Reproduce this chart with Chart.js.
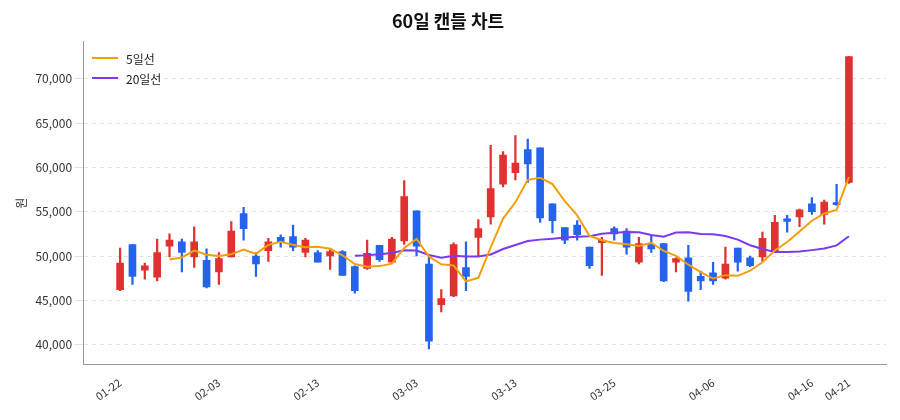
<!DOCTYPE html>
<html>
<head>
<meta charset="utf-8">
<script src="https://cdn.jsdelivr.net/npm/chart.js@4"></script>
<style>
  body { margin: 0; background: #fff; font-family: "Noto Sans CJK KR", sans-serif; }
  #wrap { position: relative; width: 900px; height: 420px; }
  #legend { position: absolute; left: 92px; top: 48px; font-size: 12px; color: #222; }
  #legend div { display: flex; align-items: center; height: 20px; }
  #legend span { display: inline-block; width: 26px; height: 2px; margin-right: 8px; }
</style>
</head>
<body>
<div id="wrap">
  <canvas id="c" width="900" height="420"></canvas>
  <div id="legend">
    <div><span style="background:#f59e0b"></span>5일선</div>
    <div><span style="background:#7c3aed"></span>20일선</div>
  </div>
</div>
<script>
// ========== DATA ==========
const dates = [
  '01-22','01-23','01-24','01-27','01-28','01-29','01-30','01-31',
  '02-03','02-04','02-05','02-06','02-07','02-10','02-11','02-12',
  '02-13','02-14','02-17','02-19','02-21','02-24','02-26','02-28',
  '03-03','03-04','03-05','03-06','03-07','03-10','03-11','03-12',
  '03-13','03-14','03-17','03-18','03-19','03-20','03-21','03-24',
  '03-25','03-26','03-27','03-28','03-31','04-01','04-02','04-03',
  '04-06','04-07','04-08','04-09','04-10','04-11','04-14','04-15',
  '04-16','04-17','04-18','04-21'
];
const opens  = [46200,51300,48400,47600,51100,51600,49900,49500,48200,49900,54800,50000,50600,52100,52200,50400,
                50400,50000,50500,48800,48600,51200,49300,51700,55100,49100,44500,45500,48700,52100,54400,58100,
                59400,62000,62200,55900,53200,53500,51000,51500,53100,52800,49300,51300,51400,49300,49800,47700,
                48100,47500,50900,49800,49900,50500,54200,54400,55900,54700,55900,58300];
const closes = [49200,47700,48900,50400,51800,50400,51600,46500,49700,52800,53100,49100,51600,51500,51000,51800,
                49300,50500,47800,46100,50300,49600,51900,56700,51100,40400,45200,51300,47700,53100,57600,61400,
                60500,60400,54300,54000,51800,52400,48900,51800,52500,51000,51400,50800,47200,49700,46000,47200,
                47200,49100,49300,48900,52000,53800,53900,55200,55000,56100,55800,72500];
const highs  = [50900,51300,49200,51900,52500,51900,53300,50800,50400,53900,55500,50400,52000,52400,53500,52000,
                50600,50800,50600,48900,51800,51200,52100,58500,55100,49900,46200,51500,51600,54100,62500,61800,
                63600,63200,62200,55900,53200,54000,51000,52100,53300,53100,52100,52300,51400,49800,51200,48300,
                49300,51000,50900,50000,52700,54600,54600,55300,56600,56300,58100,72500];
const lows   = [46100,46800,47400,47200,49900,48200,48700,46400,46800,49900,51800,47700,49400,51000,50600,49900,
                49300,48500,47800,45800,48500,49400,49300,51300,50000,39500,43700,45400,46100,50000,53600,57800,
                58600,58300,53800,52600,51400,51800,48600,47800,51800,50200,49100,50400,47100,48200,44900,46200,
                46800,47400,48300,48800,49400,50500,52700,53300,54700,53600,55700,58200];
const yTicks = [40000,45000,50000,55000,60000,65000,70000];
const shownTicks = [0,8,16,24,32,40,48,56,59];

const UP = '#e03131', DOWN = '#2563eb';

function movingAvg(vals, n) {
  return vals.map((v, i) => {
    if (i < n - 1) return { x: i, y: null };
    let s = 0;
    for (let k = i - n + 1; k <= i; k++) s += vals[k];
    return { x: i, y: s / n };
  });
}

const bodyColors = opens.map((o, i) => closes[i] >= o ? UP : DOWN);

new Chart(document.getElementById('c'), {
  type: 'bar',
  data: {
    datasets: [
      { type: 'line', label: '5일선', data: movingAvg(closes, 5), borderColor: '#f59e0b', borderWidth: 2,
        pointRadius: 0, tension: 0, order: 0 },
      { type: 'line', label: '20일선', data: movingAvg(closes, 20), borderColor: '#7c3aed', borderWidth: 2,
        pointRadius: 0, tension: 0, order: 0 },
      { label: 'body', data: opens.map((o, i) => ({ x: i, y: [o, closes[i]] })), backgroundColor: bodyColors,
        borderWidth: 0, barThickness: 7, grouped: false, order: 1, minBarLength: 2 },
      { label: 'wick', data: lows.map((l, i) => ({ x: i, y: [l, highs[i]] })), backgroundColor: bodyColors,
        barThickness: 1.6, grouped: false, order: 2 }
    ]
  },
  options: {
    responsive: false,
    animation: false,
    layout: { padding: { left: 10, right: 14, top: 4, bottom: 14 } },
    plugins: {
      legend: { display: false },
      tooltip: { enabled: false },
      title: { display: true, text: '60일 캔들 차트', color: '#111',
        font: { family: 'Noto Sans CJK KR', size: 18, weight: 'bold' }, padding: { top: 6, bottom: 10 } }
    },
    scales: {
      x: {
        type: 'linear',
        min: -3, max: 62,
        offset: false,
        grid: { display: false },
        border: { color: '#999' },
        afterBuildTicks: axis => { axis.ticks = shownTicks.map(v => ({ value: v })); },
        ticks: {
          autoSkip: false, maxRotation: 35, minRotation: 35, color: '#333',
          font: { family: 'Noto Sans CJK KR', size: 11 },
          callback: v => dates[v]
        }
      },
      y: {
        min: 37700, max: 74200,
        afterBuildTicks: axis => { axis.ticks = yTicks.map(v => ({ value: v })); },
        grid: { color: '#e3e3e3' },
        border: { color: '#999', dash: [4, 4] },
        ticks: { color: '#333', font: { family: 'Noto Sans CJK KR', size: 12 },
          callback: v => v.toLocaleString('en-US') },
        title: { display: true, text: '원', color: '#333', font: { family: 'Noto Sans CJK KR', size: 12 } }
      }
    }
  }
});
</script>
</body>
</html>
